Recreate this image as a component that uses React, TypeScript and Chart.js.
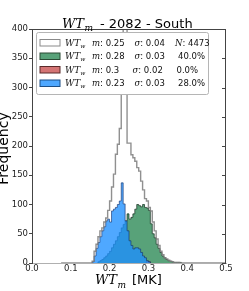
import React, { useEffect, useRef } from "react";
import { Chart, registerables } from "chart.js";

Chart.register(...registerables);

// ---------- data ----------
const binStarts = [
  0.155, 0.16, 0.165, 0.17, 0.175, 0.18, 0.185, 0.19, 0.195, 0.2,
  0.205, 0.21, 0.215, 0.22, 0.225, 0.23, 0.235, 0.24, 0.245, 0.25,
  0.255, 0.26, 0.265, 0.27, 0.275, 0.28, 0.285, 0.29, 0.295, 0.3,
  0.305, 0.31, 0.315, 0.32, 0.325, 0.33, 0.335, 0.34, 0.345, 0.35,
  0.355, 0.36, 0.365, 0.37, 0.375, 0.38,
];
const binWidth = 0.005;
const allRange = [0.075, 0.5];

const allCounts = [
  3, 20, 32, 45, 55, 60, 70, 77, 90, 106,
  130, 152, 186, 203, 230, 330, 430, 440, 205, 205,
  185, 180, 174, 163, 157, 140, 125, 110, 106, 95,
  89, 70, 55, 41, 30, 20, 14, 9, 7, 5,
  3, 2, 1, 1, 1, 0,
];
const greenCounts = [
  0, 0, 0, 2, 4, 6, 9, 12, 16, 20,
  26, 32, 38, 45, 52, 60, 66, 72, 84, 75,
  78, 84, 92, 100, 98, 96, 100, 95, 94, 90,
  67, 50, 43, 32, 25, 18, 12, 9, 6, 4,
  3, 2, 1, 1, 1, 1,
];
const redCounts = [
  0, 0, 0, 0, 0, 0, 0, 0, 0, 0,
  0, 0, 0, 0, 0, 0, 0, 0, 0, 0,
  0, 0, 0, 0, 0, 0, 0, 0, 3, 2,
  0, 0, 0, 0, 0, 0, 0, 0, 0, 0,
  0, 0, 0, 0, 0, 0,
];
const blueCounts = [
  2, 12, 25, 35, 45, 55, 62, 72, 75, 70,
  89, 92, 95, 100, 106, 137, 101, 72, 55, 38,
  30, 24, 26, 26, 24, 18, 12, 9, 4, 2,
  0, 0, 0, 0, 0, 0, 0, 0, 0, 0,
  0, 0, 0, 0, 0, 0,
];

const xTickValues = [0, 0.1, 0.2, 0.3, 0.4, 0.5];
const yTickValues = [0, 50, 100, 150, 200, 250, 300, 350, 400];

const titleMain = "WT";
const titleSub = "m";
const titleRest = "- 2082 - South";
const xLabelMain = "WT";
const xLabelSub = "m";
const xLabelUnit = "[MK]";
const yLabel = "Frequency";

const legendSubs = ["w", "w", "w", "w"];
const legendMeans = ["0.25", "0.28", "0.3", "0.23"];
const legendSigmas = ["0.04", "0.03", "0.02", "0.03"];
const legendExtras = ["4473", "40.0%", "0.0%", "28.0%"];

// ---------- styles ----------
const GRAY_LINE = "rgba(125,125,125,0.85)";
const GREEN = "rgba(46,139,87,0.8)";
const RED = "rgba(205,92,92,0.85)";
const BLUE = "rgba(30,144,255,0.78)";
const SANS = "'DejaVu Sans', sans-serif";
const SERIF = "'DejaVu Serif', serif";

function stepPoints(counts: number[], lo?: number, hi?: number) {
  const i0 = counts.findIndex((c) => c > 0);
  let i1 = counts.length - 1;
  while (i1 > 0 && counts[i1] === 0) i1--;
  const pts: { x: number; y: number }[] = [];
  if (lo !== undefined) pts.push({ x: lo, y: 0 });
  pts.push({ x: binStarts[i0], y: 0 });
  for (let i = i0; i <= i1; i++) pts.push({ x: binStarts[i], y: counts[i] });
  pts.push({ x: binStarts[i1] + binWidth, y: 0 });
  if (hi !== undefined) pts.push({ x: hi, y: 0 });
  return pts;
}

const decorPlugin = {
  id: "decor",
  afterDatasetsDraw(chart: any) {
    const { ctx, chartArea: a, scales } = chart;
    ctx.save();
    // top and right spines
    ctx.strokeStyle = "#444";
    ctx.lineWidth = 1;
    ctx.beginPath();
    ctx.moveTo(a.left, Math.round(a.top) + 0.5);
    ctx.lineTo(a.right, Math.round(a.top) + 0.5);
    ctx.moveTo(Math.round(a.right) - 0.5, a.top);
    ctx.lineTo(Math.round(a.right) - 0.5, a.bottom);
    ctx.stroke();
    // inward ticks on the right
    ctx.beginPath();
    for (const v of yTickValues) {
      const py = Math.round(scales.y.getPixelForValue(v)) + 0.5;
      ctx.moveTo(a.right - 4, py);
      ctx.lineTo(a.right, py);
    }
    ctx.stroke();

    // legend
    const bx = 36.5, by = 32.5, bw = 172, bh = 62;
    ctx.fillStyle = "#ffffff";
    ctx.strokeStyle = "#b5b5b5";
    ctx.beginPath();
    (ctx as any).roundRect(bx, by, bw, bh, 2);
    ctx.fill();
    ctx.stroke();

    const swFill = ["#ffffff", GREEN, RED, BLUE];
    const swEdge = ["#8a8a8a", "#2a4a35", "#5a2a2a", "#1d4f86"];
    const rowY = [42.5, 56, 69.5, 83];
    for (let r = 0; r < 4; r++) {
      const y = rowY[r];
      ctx.fillStyle = swFill[r];
      ctx.strokeStyle = swEdge[r];
      ctx.lineWidth = 1;
      ctx.fillRect(40, y - 3, 20, 6.5);
      ctx.strokeRect(40, y - 3, 20, 6.5);

      const base = y + 3;
      ctx.fillStyle = "#111";
      ctx.textBaseline = "alphabetic";
      ctx.textAlign = "left";
      ctx.font = `italic 9px ${SERIF}`;
      ctx.fillText("WT", 65, base);
      const w1 = ctx.measureText("WT").width;
      ctx.font = `italic 6px ${SERIF}`;
      ctx.fillText(legendSubs[r], 65 + w1, base + 2);

      ctx.font = `italic 8.5px ${SERIF}`;
      ctx.fillText("m", 92, base);
      let w = ctx.measureText("m").width;
      ctx.font = `8.5px ${SANS}`;
      ctx.fillText(": " + legendMeans[r], 92 + w, base);

      const sx = r === 2 ? 132.5 : 134.5;
      ctx.font = `italic 8.5px ${SERIF}`;
      ctx.fillText("\u03c3", sx, base);
      w = ctx.measureText("\u03c3").width;
      ctx.font = `8.5px ${SANS}`;
      ctx.fillText(": " + legendSigmas[r], sx + w, base);

      if (r === 0) {
        ctx.font = `italic 8.5px ${SERIF}`;
        ctx.fillText("N", 175, base);
        w = ctx.measureText("N").width;
        ctx.font = `8.5px ${SANS}`;
        ctx.fillText(": " + legendExtras[r], 175 + w, base);
      } else {
        ctx.font = `8.5px ${SANS}`;
        ctx.fillText(legendExtras[r], r === 2 ? 176.5 : 178, base);
      }
    }
    ctx.restore();
  },
  afterDraw(chart: any) {
    const { ctx } = chart;
    ctx.save();
    ctx.fillStyle = "#000";
    ctx.textBaseline = "alphabetic";
    ctx.textAlign = "left";
    // title
    ctx.font = `italic 13px ${SERIF}`;
    ctx.fillText(titleMain, 62, 27.5);
    let w = ctx.measureText(titleMain).width;
    ctx.font = `italic 9px ${SERIF}`;
    ctx.fillText(titleSub, 62 + w + 0.5, 31);
    ctx.font = `13px ${SANS}`;
    ctx.fillText(titleRest, 100, 27.5);
    // x label
    ctx.font = `italic 13px ${SERIF}`;
    ctx.fillText(xLabelMain, 95, 284);
    w = ctx.measureText(xLabelMain).width;
    ctx.font = `italic 9px ${SERIF}`;
    ctx.fillText(xLabelSub, 95 + w + 0.5, 287.5);
    ctx.font = `13px ${SANS}`;
    ctx.fillText(xLabelUnit, 132, 284);
    // y label
    ctx.translate(7.5, 148.5);
    ctx.rotate(-Math.PI / 2);
    ctx.textAlign = "center";
    ctx.font = `14px ${SANS}`;
    ctx.fillText(yLabel, 0, 0);
    ctx.restore();
  },
};

export default function App() {
  const ref = useRef<HTMLCanvasElement | null>(null);
  useEffect(() => {
    if (!ref.current) return;
    const chart = new Chart(ref.current, {
      type: "line",
      data: {
        datasets: [
          {
            label: "all",
            data: stepPoints(allCounts, allRange[0], allRange[1]),
            stepped: true,
            fill: false,
            borderColor: GRAY_LINE,
            borderWidth: 1.4,
            pointRadius: 0,
            order: 0,
          },
          {
            label: "blue",
            data: stepPoints(blueCounts),
            stepped: true,
            fill: "origin",
            backgroundColor: BLUE,
            borderColor: "rgba(20,50,110,0.8)",
            borderWidth: 0.8,
            pointRadius: 0,
            order: 1,
          },
          {
            label: "red",
            data: stepPoints(redCounts),
            stepped: true,
            fill: "origin",
            backgroundColor: RED,
            borderColor: "rgba(80,20,20,0.8)",
            borderWidth: 0.8,
            pointRadius: 0,
            order: 2,
          },
          {
            label: "green",
            data: stepPoints(greenCounts),
            stepped: true,
            fill: "origin",
            backgroundColor: GREEN,
            borderColor: "rgba(15,40,25,0.85)",
            borderWidth: 0.8,
            pointRadius: 0,
            order: 3,
          },
        ],
      },
      options: {
        animation: false,
        responsive: false,
        devicePixelRatio: 1,
        layout: { padding: { top: 29, right: 23, left: 0, bottom: 0 } },
        plugins: {
          legend: { display: false },
          title: { display: false },
          tooltip: { enabled: false },
        },
        scales: {
          x: {
            type: "linear",
            min: 0,
            max: 0.5,
            afterBuildTicks: (s: any) => {
              s.ticks = xTickValues.map((v) => ({ value: v }));
            },
            afterFit: (s: any) => {
              s.height = 28;
            },
            ticks: {
              callback: (v: any) => Number(v).toFixed(1),
              font: { size: 8.5, family: SANS },
              color: "#222",
              padding: 1,
              maxRotation: 0,
              autoSkip: false,
            },
            grid: { display: true, drawOnChartArea: false, drawTicks: false },
            border: { display: true, color: "#b0b0b0", width: 1 },
          },
          y: {
            type: "linear",
            min: 0,
            max: 400,
            afterBuildTicks: (s: any) => {
              s.ticks = yTickValues.map((v) => ({ value: v }));
            },
            afterFit: (s: any) => {
              s.width = 32;
            },
            ticks: {
              font: { size: 8.5, family: SANS },
              color: "#222",
              padding: 1,
              autoSkip: false,
            },
            grid: {
              display: true,
              drawOnChartArea: false,
              drawTicks: true,
              tickLength: 3,
              color: "#444",
            },
            border: { display: true, color: "#444", width: 1 },
          },
        },
      },
      plugins: [decorPlugin],
    } as any);
    return () => chart.destroy();
  }, []);
  return (
    <div style={{ position: "absolute", left: 0, top: 0, width: 249, height: 291 }}>
      <canvas ref={ref} width={249} height={291} style={{ display: "block", width: 249, height: 291 }} />
    </div>
  );
}
